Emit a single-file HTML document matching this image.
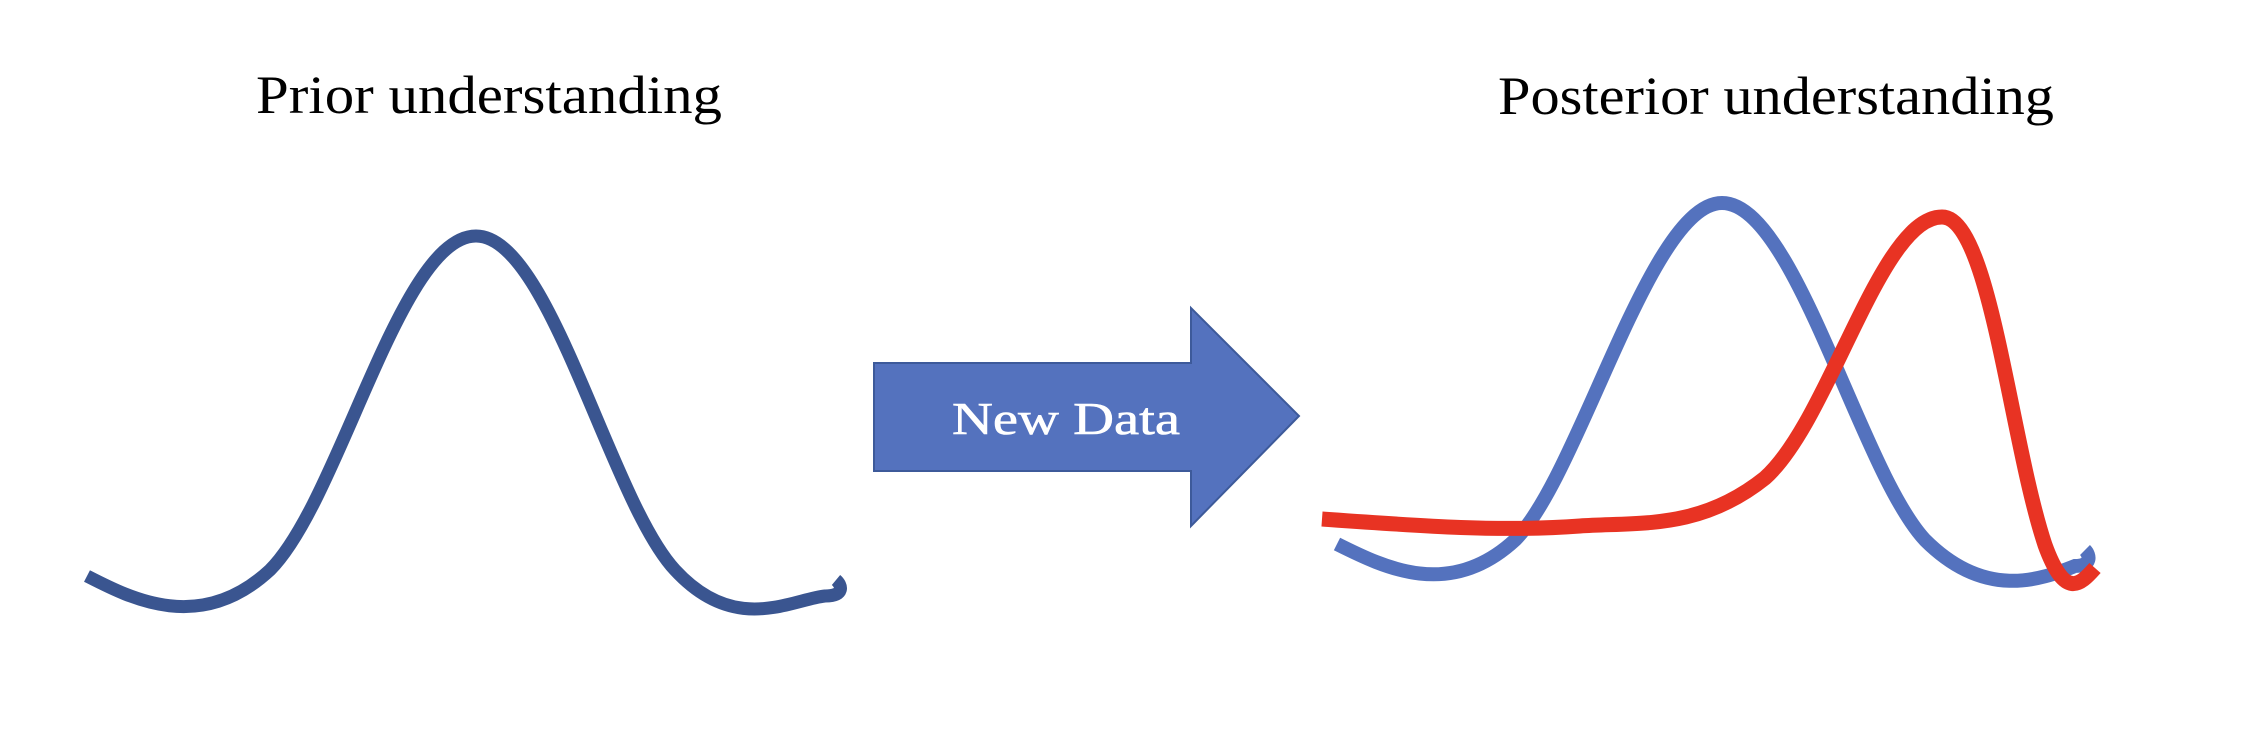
<!DOCTYPE html>
<html><head><meta charset="utf-8"><style>
html,body{margin:0;padding:0;background:#fff;}
svg{display:block;}
</style></head><body>
<svg width="2244" height="748" viewBox="0 0 2244 748" xmlns="http://www.w3.org/2000/svg">
<text x="256" y="113" font-family="Liberation Serif, serif" font-size="54" fill="#000" textLength="466" lengthAdjust="spacingAndGlyphs">Prior understanding</text>
<text x="1498" y="114" font-family="Liberation Serif, serif" font-size="54" fill="#000" textLength="556" lengthAdjust="spacingAndGlyphs">Posterior understanding</text>
<path d="M87,576 C130,598 200,635 270,570 C340,500 400,236 476,236 C550,236 610,500 675,570 C735,635 790,600 825,596 C845,596 842,585 836,580" fill="none" stroke="#3a5590" stroke-width="13"/>
<polygon points="874,363 1191,363 1191,308 1299,416 1191,526 1191,471 874,471" fill="#5472be" stroke="#3d5a9a" stroke-width="2"/>
<text x="1066" y="434" text-anchor="middle" font-family="Liberation Serif, serif" font-size="46" fill="#fff" stroke="#fff" stroke-width="0.6" textLength="228" lengthAdjust="spacingAndGlyphs">New Data</text>
<path d="M1337,544 C1385,568 1450,600 1515,540 C1580,475 1650,203 1722,203 C1795,203 1860,470 1925,540 C1985,600 2040,580 2075,566 C2092,566 2090,555 2085,550" fill="none" stroke="#5472be" stroke-width="14"/>
<path d="M1322,519 C1420,526 1500,532 1580,526 C1640,522 1700,530 1765,478 C1830,420 1880,217 1942,217 C1990,217 2010,440 2045,545 C2065,600 2080,585 2095,568" fill="none" stroke="#e83323" stroke-width="15"/>
</svg>
</body></html>
